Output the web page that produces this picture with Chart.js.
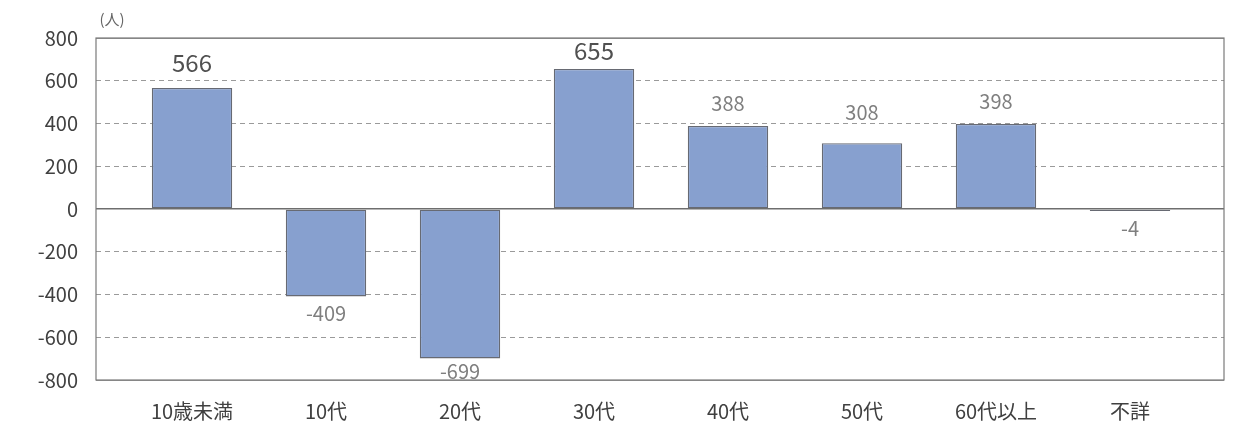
<!DOCTYPE html>
<html>
<head>
<meta charset="utf-8">
<script src="https://cdn.jsdelivr.net/npm/chart.js@4"></script>
<style>
  html, body { margin: 0; padding: 0; background: #fff; }
  #wrap { width: 1248px; height: 426px; position: relative; }
</style>
</head>
<body>
<div id="wrap"><canvas id="grafica"></canvas></div>
<script>
const categorias = ['10歳未満', '10代', '20代', '30代', '40代', '50代', '60代以上', '不詳'];
const valores = [566, -409, -699, 655, 388, 308, 398, -4];
const ticksY = [-800, -600, -400, -200, 0, 200, 400, 600, 800];
const unidad = '(人)';

(function(){
    const fuente = '"Noto Sans CJK JP", "Noto Sans", sans-serif';
    const grandes = [0, 3]; // etiquetas que salen mas grandes en el original
    const ajuste = {5: -8};  // la etiqueta de 50代 esta un poco mas arriba

    // marco del area de la grafica
    const marco = {
        id: 'marco',
        afterDraw(chart){
            const {ctx, chartArea: a} = chart;
            ctx.save();
            ctx.strokeStyle = '#7a7a7a';
            ctx.lineWidth = 1.2;
            ctx.strokeRect(a.left, a.top, a.right - a.left, a.bottom - a.top);
            // unidad arriba a la izquierda
            ctx.fillStyle = '#666';
            ctx.font = '15px ' + fuente;
            ctx.textAlign = 'center';
            ctx.textBaseline = 'middle';
            ctx.fillText(unidad, a.left + 16, 19);
            ctx.restore();
        }
    };

    // valores encima/debajo de cada barra
    const etiquetas = {
        id: 'etiquetas',
        afterDatasetsDraw(chart){
            const {ctx, chartArea: a} = chart;
            const meta = chart.getDatasetMeta(0);
            ctx.save();
            ctx.textAlign = 'center';
            ctx.textBaseline = 'middle';
            meta.data.forEach((bar, i) => {
                const v = valores[i];
                const big = grandes.includes(i);
                ctx.font = (big ? '24px ' : '20px ') + fuente;
                ctx.fillStyle = big ? '#505050' : '#7f7f7f';
                let y;
                if(v >= 0){
                    y = Math.max(bar.y - (big ? 25 : 23), a.top + 13);
                }else{
                    y = Math.min(bar.y + 17, a.bottom - 9);
                }
                ctx.fillText(String(v), bar.x, y + (ajuste[i] || 0));
            });
            ctx.restore();
        }
    };

    const ctx = document.getElementById('grafica').getContext('2d');
    new Chart(ctx, {
        type: 'bar',
        data: {
            datasets: [{
                data: categorias.map((c, i) => ({x: i, y: valores[i]})),
                backgroundColor: '#87a0cf',
                borderColor: '#676a73',
                borderWidth: 1.3,
                borderSkipped: false,
                minBarLength: 2,
                categoryPercentage: 1,
                barPercentage: 0.6
            }]
        },
        options: {
            responsive: true,
            maintainAspectRatio: false,
            animation: false,
            layout: {padding: {left: 0, right: 24, top: 38, bottom: 0}},
            plugins: {legend: {display: false}, tooltip: {enabled: false}},
            scales: {
                x: {
                    type: 'linear',
                    offset: false,
                    min: -0.5 - 29/134,
                    max: 7.5 + 27/134,
                    afterBuildTicks: s => { s.ticks = categorias.map((c, i) => ({value: i})); },
                    afterFit: s => { s.height = 46; },
                    grid: {display: false, drawTicks: false, offset: false},
                    border: {display: false},
                    ticks: {
                        autoSkip: false,
                        maxRotation: 0,
                        padding: 19,
                        color: '#404040',
                        font: {family: fuente, size: 20},
                        callback: v => categorias[v] ?? ''
                    }
                },
                y: {
                    min: -800,
                    max: 800,
                    afterBuildTicks: s => { s.ticks = ticksY.map(v => ({value: v})); },
                    afterFit: s => { s.width = 96; },
                    grid: {
                        drawTicks: false,
                        color: c => c.tick && c.tick.value === 0 ? '#6e6e6e' : '#9a9a9a',
                        lineWidth: c => c.tick && c.tick.value === 0 ? 1.4 : 1
                    },
                    border: {
                        display: false,
                        dash: c => c.tick && (c.tick.value === 0 || Math.abs(c.tick.value) === 800) ? [] : [5, 4]
                    },
                    ticks: {
                        padding: 18,
                        color: '#404040',
                        font: {family: fuente, size: 20}
                    }
                }
            }
        },
        plugins: [marco, etiquetas]
    });
})();
</script>
</body>
</html>
